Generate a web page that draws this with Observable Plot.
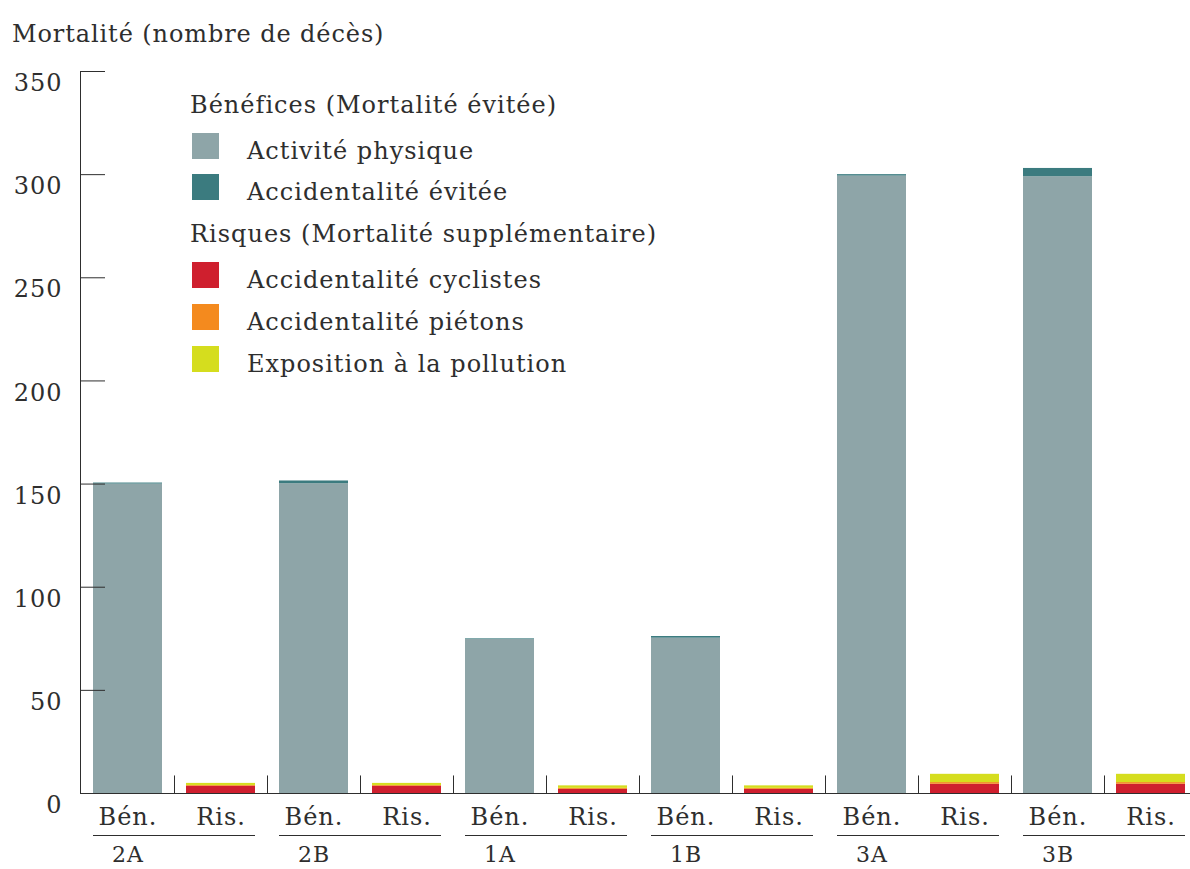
<!DOCTYPE html>
<html><head><meta charset="utf-8">
<script src="https://cdn.jsdelivr.net/npm/d3@7"></script>
<script src="https://cdn.jsdelivr.net/npm/@observablehq/plot@0.6"></script>
<style>
body{margin:0;background:#fff;font-family:"DejaVu Serif",serif;color:#2e2e2e;}
#wrap{position:relative;width:1190px;height:869px;overflow:hidden;}
#title{position:absolute;left:12px;font-size:24px;line-height:24px;letter-spacing:0.9px;white-space:nowrap;}
.leg{position:absolute;font-size:24px;line-height:24px;letter-spacing:1px;white-space:nowrap;}
.sw{position:absolute;width:27px;height:26px;}
#chart{position:absolute;left:0;top:50px;}
</style></head><body>
<div id="wrap">
 <div id="title" style="top:22px">Mortalité (nombre de décès)</div>
 <div id="chart"></div>
 <div id="legend"></div>
</div>
<script>
// ---- data ----
const groups = ["2A", "2B", "1A", "1B", "3A", "3B"];
const kinds = ["Bén.", "Ris."];
const series = ["Activité physique", "Accidentalité évitée", "Accidentalité cyclistes", "Accidentalité piétons", "Exposition à la pollution"];
const colors = ["#8ea5a8", "#3b7b7f", "#cf1f2e", "#f48a1e", "#d5dd1e"];
const headers = ["Bénéfices (Mortalité évitée)", "Risques (Mortalité supplémentaire)"];
const activite = [150, 150.2, 74.7, 75.3, 299.3, 299];
const accidentEvitee = [0.5, 1.3, 0.3, 0.8, 0.7, 4];
const cyclistes = [3.5, 3.5, 2, 2, 4.5, 4.5];
const pietons = [0.4, 0.4, 0.5, 0.5, 0.8, 0.8];
const pollution = [1, 1, 1.2, 1.2, 4, 4];
const yTicks = [0, 50, 100, 150, 200, 250, 300, 350];

// ---- build table ----
const cats = groups.flatMap(g => kinds.map(k => g + "|" + k));
const rows = [];
groups.forEach((g, i) => {
  rows.push({cat: g + "|" + kinds[0], serie: series[0], value: activite[i]});
  rows.push({cat: g + "|" + kinds[0], serie: series[1], value: accidentEvitee[i]});
  rows.push({cat: g + "|" + kinds[1], serie: series[2], value: cyclistes[i]});
  rows.push({cat: g + "|" + kinds[1], serie: series[3], value: pietons[i]});
  rows.push({cat: g + "|" + kinds[1], serie: series[4], value: pollution[i]});
});

const ink = "#2e2e2e";
const chart = Plot.plot({
  width: 1190, height: 819,
  marginTop: 21, marginBottom: 76, marginLeft: 80, marginRight: 0,
  style: {fontFamily: "'DejaVu Serif', serif", fontSize: "24px", letterSpacing: "1px", color: ink, background: "transparent"},
  x: {domain: cats, range: [81, 1197], padding: 0, axis: null},
  y: {domain: [0, 350]},
  color: {domain: series, range: colors},
  marks: [
    Plot.barY(rows, {x: "cat", y: "value", fill: "serie", insetLeft: 12, insetRight: 12}),
    Plot.ruleY([0], {stroke: ink}),
    Plot.frame({anchor: "left", stroke: ink}),
    Plot.tickY(yTicks.filter(d => d > 0), {x: () => cats[0], y: d => d, insetRight: 69, stroke: ink}),
    Plot.axisY({ticks: yTicks, tickSize: 0, tickPadding: 18, dy: 12, fill: ink, label: null, tickFormat: d => String(d)}),
    Plot.ruleX(cats.slice(1), {x: d => d, y1: 0, y2: 8.5, dx: -46.5, stroke: ink}),
    Plot.text(cats, {x: d => d, y: () => 0, text: d => d.split("|")[1], dy: 24, fill: ink}),
    Plot.tickY(groups, {x: g => g + "|" + kinds[0], y: () => 0, dy: 42, insetLeft: 12, stroke: ink}),
    Plot.tickY(groups, {x: g => g + "|" + kinds[1], y: () => 0, dy: 42, insetRight: 12, stroke: ink}),
    Plot.text(groups, {x: g => g + "|" + kinds[0], y: () => 0, text: g => g, dy: 61, fontSize: 22, fill: ink})
  ]
});
document.getElementById("chart").appendChild(chart);

// ---- legend (HTML overlay) ----
const leg = document.getElementById("legend");
const lineTops = [{t: "h", i: 0, base: 113}, {t: "s", i: 0, base: 159}, {t: "s", i: 1, base: 200},
                  {t: "h", i: 1, base: 242}, {t: "s", i: 2, base: 288}, {t: "s", i: 3, base: 330}, {t: "s", i: 4, base: 372}];
lineTops.forEach(l => {
  const d = document.createElement("div");
  d.className = "leg";
  d.style.top = (l.base - 20.3) + "px";
  if (l.t === "h") {
    d.style.left = "190px";
    d.textContent = headers[l.i];
  } else {
    d.style.left = "247px";
    d.textContent = series[l.i];
    const s = document.createElement("div");
    s.className = "sw";
    s.style.left = "192px";
    s.style.top = (l.base - 26) + "px";
    s.style.background = colors[l.i];
    leg.appendChild(s);
  }
  leg.appendChild(d);
});
</script>
</body></html>
